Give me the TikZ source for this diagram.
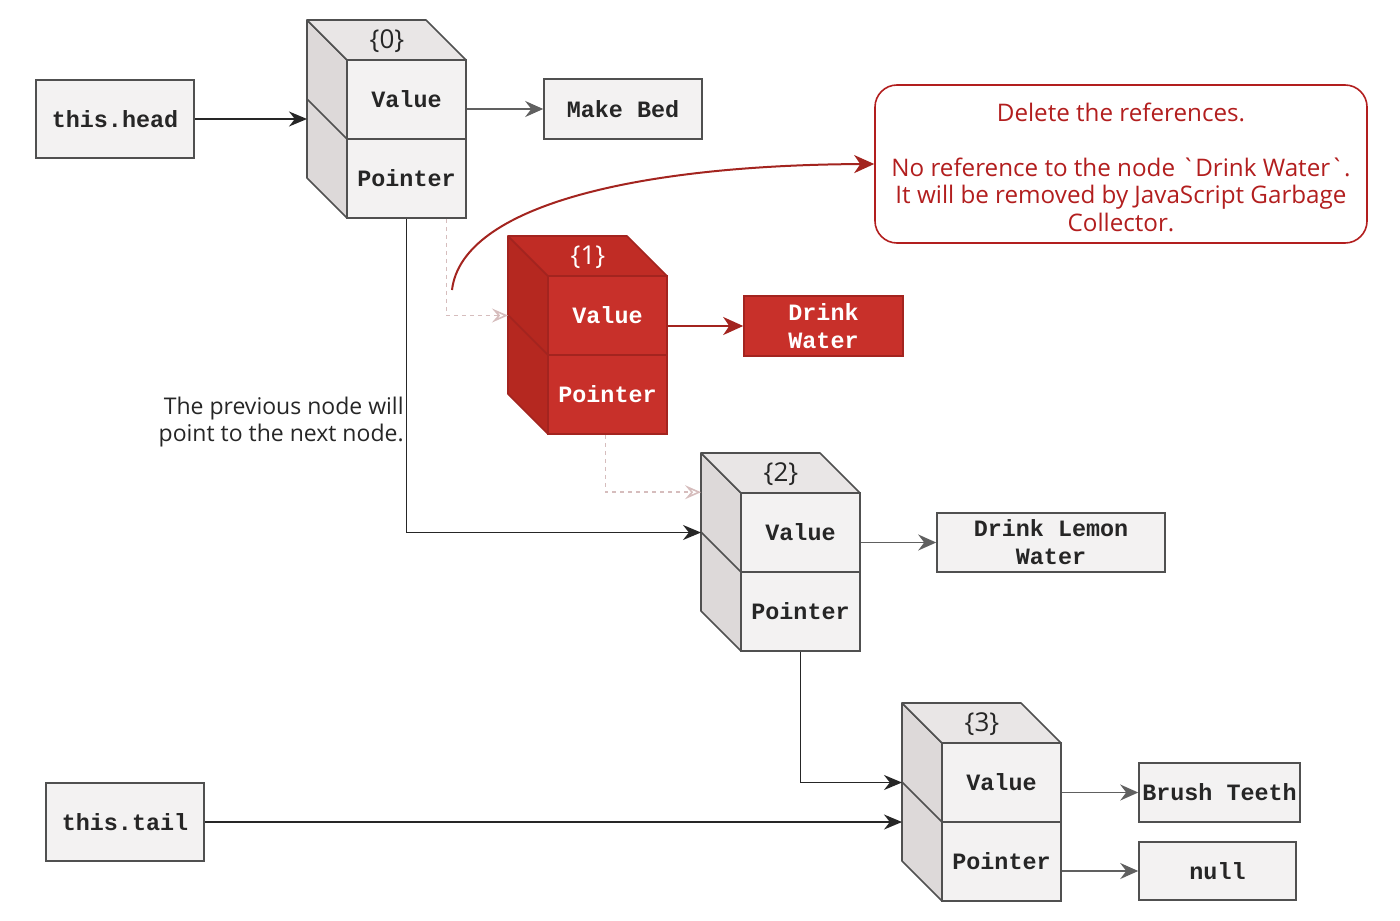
\documentclass[tikz,border=0pt]{standalone}
\usepackage{fontspec}
\setmainfont{Open Sans}
\newfontfamily\codefont{Liberation Mono}
\usetikzlibrary{arrows.meta}
\definecolor{cellfill}{HTML}{F3F2F2}
\definecolor{sidefill}{HTML}{DDD9D9}
\definecolor{topfill}{HTML}{E9E6E6}
\definecolor{edgegray}{HTML}{505050}
\definecolor{redfill}{HTML}{C8302A}
\definecolor{redside}{HTML}{B52820}
\definecolor{redtop}{HTML}{C02C25}
\definecolor{rededge}{HTML}{A3241F}
\definecolor{notered}{HTML}{B21E1E}
\definecolor{dashcol}{HTML}{D6BDBD}
\definecolor{arrgray}{HTML}{606060}
\newcommand{\mkcube}[5]{%
 \filldraw[#5side] (#2,#3) -- ++(-40,-40) -- ++(0,158) -- ++(40,40) -- cycle;
 \filldraw[#5top] (#2,#3) -- ++(-40,-40) -- ++(119,0) -- ++(40,40) -- cycle;
 \draw[#5side, fill=none] (#2,#3+79) -- ++(-40,-40);
 \coordinate (#1b) at (#2-40,#3-40);
 \node[#5cell] (#1v) at (#2+59.5,#3+39.5) {Value};
 \node[#5cell] (#1p) at (#2+59.5,#3+118.5) {Pointer};
 \node[#5lab] (#1l) at (#2+40,#3-19) {#4};
}
\tikzset{
 codetext/.style={font=\codefont\bfseries\fontsize{11.7}{14}\selectfont},
 nside/.style={draw=edgegray, fill=sidefill, line width=0.8pt, line join=round},
 ntop/.style={draw=edgegray, fill=topfill, line width=0.8pt, line join=round},
 ncell/.style={codetext, draw=edgegray, fill=cellfill, line width=0.8pt, minimum width=59.5pt, minimum height=39.5pt, inner sep=0pt, text=black!85},
 nlab/.style={font=\fontsize{13}{15}\selectfont, text=black!85},
 rside/.style={draw=rededge, fill=redside, line width=0.8pt, line join=round},
 rtop/.style={draw=rededge, fill=redtop, line width=0.8pt, line join=round},
 rcell/.style={codetext, draw=rededge, fill=redfill, line width=0.8pt, minimum width=59.5pt, minimum height=39.5pt, inner sep=0pt, text=white},
 rlab/.style={font=\fontsize{13}{15}\selectfont, text=white},
 valbox/.style={codetext, draw=edgegray, fill=cellfill, line width=0.8pt, inner sep=0pt, align=center, text=black!85},
 darrow/.style={draw=black!85, line width=0.9pt, -{Stealth[length=9pt,width=7.5pt]}},
 garrow/.style={draw=arrgray, line width=0.8pt, -{Stealth[length=9pt,width=8pt,inset=3pt]}},
 rarrow/.style={draw=rededge, line width=1pt, -{Stealth[length=10pt,width=9pt,inset=3pt]}},
 dasharrow/.style={draw=dashcol, line width=0.8pt, dash pattern=on 2pt off 2pt, -{Stealth[length=8pt,width=7pt,inset=3pt,open]}},
 notebox/.style={draw=notered, rounded corners=11pt, line width=0.8pt, minimum width=246pt, minimum height=79pt, align=center, text=notered, font=\fontsize{12.1}{13.75}\selectfont},
 plaintext/.style={align=right, text=black!85, font=\fontsize{11.5}{13.75}\selectfont, inner sep=0pt},
}
\begin{document}
\begin{tikzpicture}[x=0.5pt,y=-0.5pt]
\useasboundingbox (0,0) rectangle (1400,920);

\mkcube{c0}{347}{60}{\{0\}}{n}
\mkcube{c1}{548}{276}{\{1\}}{r}
\mkcube{c2}{741}{493}{\{2\}}{n}
\mkcube{c3}{942}{743}{\{3\}}{n}

\node[valbox, minimum width=79pt, minimum height=39pt] (head) at (115,119) {this.head};
\node[valbox, minimum width=79pt, minimum height=39pt] (tail) at (125,822) {this.tail};
\node[valbox, minimum width=79pt, minimum height=30pt] (bed) at (623,109) {Make Bed};
\node[valbox, draw=rededge, fill=redfill, text=white, minimum width=79.5pt, minimum height=30pt] (drink) at (823.5,326) {Drink\\Water};
\node[valbox, minimum width=114pt, minimum height=29.5pt] (lemon) at (1051,542.5) {Drink Lemon\\Water};
\node[valbox, minimum width=80.5pt, minimum height=29.5pt] (brush) at (1219.5,792.5) {Brush Teeth};
\node[valbox, minimum width=78.5pt, minimum height=29pt] (null) at (1217.5,871) {null};

\node[notebox] (note) at (1121,164) {};
\node[align=center, text=notered, font=\fontsize{12.1}{13.75}\selectfont, inner sep=0pt] (notetext) at (1121,167) {Delete the references.\\ \mbox{}\\ No reference to the node \textasciigrave Drink Water\textasciigrave.\\ It will be removed by JavaScript Garbage\\ Collector.};
\node[plaintext, anchor=east] (prev) at (404,422) {The previous node will\\point to the next node.};

% pointers
\draw[darrow] (head.east) -- (head.east -| c0b);
\draw[darrow] (c0p.south) |- (c2v.west -| c2b);
\draw[darrow] (c2p.south) |- (c3v.west -| c3b);
\draw[darrow] (tail.east) -- (tail.east -| c3b);

% values
\draw[garrow] (c0v.east |- bed.west) -- (bed.west);
\draw[rarrow] (c1v.east |- drink.west) -- (drink.west);
\draw[garrow] (c2v.east |- lemon.west) -- (lemon.west);
\draw[garrow] (c3v.east |- brush.west) -- (brush.west);
\draw[garrow] (c3p.east |- null.west) -- (null.west);

% removed references
\draw[dasharrow] ([xshift=20pt]c0p.south) |- (c1v.west -| c1b);
\draw[dasharrow] ([xshift=-1pt]c1p.south) |- (c2v.north -| c2b);

% note curve
\coordinate (cstart) at (452,290);
\draw[rarrow] (cstart) .. controls (462,205) and (640,165) .. (note.west);
\end{tikzpicture}
\end{document}
